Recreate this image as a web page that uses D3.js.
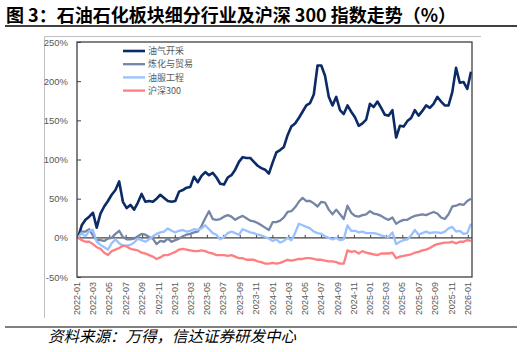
<!DOCTYPE html>
<html>
<head>
<meta charset="utf-8">
<script src="https://cdn.jsdelivr.net/npm/d3@7"></script>
<style>
body { margin: 0; background: #fff; }
svg { display: block; font-family: "Liberation Sans", Arial, sans-serif; }
</style>
</head>
<body>
<svg id="chart" width="522" height="352"></svg>
<script>
// biweekly samples
const dates = [
  '2022-01-04','2022-01-18','2022-02-01','2022-02-15','2022-03-01','2022-03-15','2022-03-29','2022-04-12','2022-04-26','2022-05-10',
  '2022-05-24','2022-06-07','2022-06-21','2022-07-05','2022-07-19','2022-08-02','2022-08-16','2022-08-30','2022-09-13','2022-09-27',
  '2022-10-11','2022-10-25','2022-11-08','2022-11-22','2022-12-06','2022-12-20',
  '2023-01-03','2023-01-17','2023-01-31','2023-02-14','2023-02-28','2023-03-14','2023-03-28','2023-04-11','2023-04-25','2023-05-09',
  '2023-05-23','2023-06-06','2023-06-20','2023-07-04','2023-07-18','2023-08-01','2023-08-15','2023-08-29','2023-09-12','2023-09-26',
  '2023-10-10','2023-10-24','2023-11-07','2023-11-21','2023-12-05','2023-12-19',
  '2024-01-02','2024-01-16','2024-01-30','2024-02-13','2024-02-27','2024-03-12','2024-03-26','2024-04-09','2024-04-23','2024-05-07',
  '2024-05-21','2024-06-04','2024-06-18','2024-07-02','2024-07-16','2024-07-30','2024-08-13','2024-08-27','2024-09-10','2024-09-24',
  '2024-10-08','2024-10-22','2024-11-05','2024-11-19','2024-12-03','2024-12-17','2024-12-31',
  '2025-01-14','2025-01-28','2025-02-11','2025-02-25','2025-03-11','2025-03-25','2025-04-08','2025-04-22','2025-05-06','2025-05-20',
  '2025-06-03','2025-06-17','2025-07-01','2025-07-15','2025-07-29','2025-08-12','2025-08-26','2025-09-09','2025-09-23','2025-10-07',
  '2025-10-21','2025-11-04','2025-11-18','2025-12-02','2025-12-16','2025-12-30',
  '2026-01-13'
];

const oilGas = [
  0, 16, 23, 27, 32, 13, 31, 40, 47, 55,
  61, 72, 46, 38, 42, 36, 45, 56, 46, 47,
  46, 50, 55, 51, 47, 46,
  47, 59, 61, 64, 65, 78, 71, 79, 84, 80,
  83, 77, 69, 68, 77, 80, 87, 97, 103, 102,
  102, 97, 92, 89, 87, 82,
  96, 109, 112, 116, 131, 142, 146, 153, 161, 169,
  172, 183, 220, 220, 207, 180, 169, 180, 163, 158,
  169, 161, 154, 143, 146, 151, 171,
  167, 174, 166, 157, 156, 163, 128, 143, 142, 149,
  153, 163, 156, 162, 169, 166, 171, 180, 174, 169,
  169, 186, 217, 198, 199, 190,
  212
];

const refining = [
  0, 8, 8, 11, 3, -3, -3, -4, -1, 0,
  5, 9, 1, -2, -2, -1, 2, 5, 4, 1,
  -1, -8, -4, -5, -1, -5,
  -3, -1, 2, 4, 5, 7, 8, 15, 25, 34,
  24, 23, 24, 27, 29, 27, 23, 26, 28, 25,
  22, 21, 19, 16, 13, 10,
  20, 20, 22, 26, 33, 34, 39, 46, 51, 47,
  47, 44, 40, 46, 45, 36, 30, 36, 30, 24,
  41, 32, 28, 27, 29, 30, 34,
  31, 30, 28, 25, 23, 26, 18, 21, 23, 23,
  26, 28, 29, 30, 29, 31, 33, 31, 26, 24,
  30, 40, 41, 43, 42, 47,
  50
];

const oilService = [
  0, 6, 2, 9, 10, -5, -9, -12, -15, -7,
  -2, -7, -10, -10, -9, -6, -1, -3, -5, -2,
  2, 5, 7, 8, 12, 9,
  7, 9, 10, 8, 9, 11, 10, 12, 16, 11,
  6, 4, -2, 1, 6, 8, 6, 4, 11, 9,
  7, 6, 4, 3, 1, -1,
  -4, -2, -6, -4, 0, -3, 6, 18, 16, 14,
  12, 8, 6, 5, 2, 0, -2, 0, -3, -2,
  16, 9, 9, 7, 8, 6, 6,
  6, 5, 3, 2, 1, 7, -8, -5, -3, -2,
  3, 10, 4, 6, 8, 6, 7, 7, 6, 8,
  12, 14, 8, 9, 5, 6,
  18
];

const csi300 = [
  0, -3, -5, -5, -8, -12, -14, -19, -22, -17,
  -15, -13, -10, -11, -14, -15, -16, -19, -20, -22,
  -24, -27, -25, -22, -22, -20,
  -18, -15, -14, -15, -16, -17, -17, -16, -17, -19,
  -20, -22, -22, -22, -23, -22, -24, -26, -26, -28,
  -28, -28, -30, -31, -33, -33,
  -32, -33, -32, -30, -28, -29, -28, -27, -27, -26,
  -26, -27, -28, -28, -29, -30, -30, -31, -33, -33,
  -16, -18, -17, -20, -17, -19, -20,
  -21, -22, -20, -20, -20, -19, -26, -24, -23, -22,
  -21, -19, -18, -16, -15, -13, -10, -8, -7, -6,
  -6, -5, -7, -5, -5, -3,
  -4
];

const seriesNames = ['油气开采', '炼化与贸易', '油服工程', '沪深300'];
const seriesColors = ['#0b2a66', '#7585a6', '#99c1ff', '#ff7f80'];
const seriesWidths = [2.6, 2.3, 2.3, 2.3];

const yTicks = [-50, 0, 50, 100, 150, 200, 250];
const xTickLabels = [
  '2022-01','2022-03','2022-05','2022-07','2022-09','2022-11',
  '2023-01','2023-03','2023-05','2023-07','2023-09','2023-11',
  '2024-01','2024-03','2024-05','2024-07','2024-09','2024-11',
  '2025-01','2025-03','2025-05','2025-07','2025-09','2025-11',
  '2026-01'
];

const plot = { left: 77, right: 472, top: 42, bottom: 277 };

const svg = d3.select('#chart');
const parse = d3.timeParse('%Y-%m-%d');
const parseMonth = d3.timeParse('%Y-%m');
const dateObjs = dates.map(parse);

const x = d3.scaleTime()
  .domain(d3.extent(dateObjs))
  .range([78, 471]);
const y = d3.scaleLinear()
  .domain([-50, 250])
  .range([plot.bottom, plot.top]);

// title
svg.append('text')
  .attr('x', 6)
  .attr('y', 22)
  .attr('font-family', '"Noto Sans CJK SC", sans-serif')
  .attr('font-weight', 'bold')
  .attr('font-size', '18px')
  .attr('fill', '#000')
  .text('图 3：石油石化板块细分行业及沪深 300 指数走势（%）');

svg.append('line')
  .attr('x1', 5).attr('x2', 517)
  .attr('y1', 26).attr('y2', 26)
  .attr('stroke', '#000')
  .attr('stroke-width', 1.3);

// chart area border (top + left visible)
svg.append('path')
  .attr('d', 'M44.5,318 V36.5 H481')
  .attr('fill', 'none')
  .attr('stroke', '#c0c0c0')
  .attr('stroke-width', 1);

// y axis labels and inward ticks
const yAxis = svg.append('g')
  .attr('transform', `translate(${plot.left}, 0)`)
  .call(d3.axisLeft(y).tickValues(yTicks).tickFormat(d => d + '%').tickSize(-4).tickPadding(9));
yAxis.select('.domain').remove();
yAxis.selectAll('line').attr('stroke', '#404040');
yAxis.selectAll('text')
  .attr('fill', '#595959')
  .style('font-size', '9.5px')
  .style('font-family', '"Liberation Sans", Arial, sans-serif');

// zero line with month ticks
const tickDates = xTickLabels.map(parseMonth);
svg.append('line')
  .attr('x1', plot.left).attr('x2', plot.right)
  .attr('y1', y(0)).attr('y2', y(0))
  .attr('stroke', '#404040')
  .attr('stroke-width', 1.2);

svg.append('g')
  .attr('transform', `translate(0, ${y(0)})`)
  .call(d3.axisBottom(x).tickValues(tickDates).tickSize(-3).tickSizeOuter(0).tickFormat(''))
  .call(g => g.select('.domain').remove())
  .selectAll('line').attr('stroke', '#404040');

// lines
const lineGen = d3.line()
  .x((d, i) => x(dateObjs[i]))
  .y(d => y(d));

[oilGas, refining, oilService, csi300].forEach((vals, k) => {
  svg.append('path')
    .datum(vals)
    .attr('fill', 'none')
    .attr('stroke', seriesColors[k])
    .attr('stroke-width', seriesWidths[k])
    .attr('stroke-linejoin', 'round')
    .attr('d', lineGen);
});

// plot border
svg.append('rect')
  .attr('x', plot.left).attr('y', plot.top)
  .attr('width', plot.right - plot.left)
  .attr('height', plot.bottom - plot.top)
  .attr('fill', 'none')
  .attr('stroke', '#404040')
  .attr('stroke-width', 1.3);

// x labels, rotated
svg.append('g').selectAll('text')
  .data(xTickLabels)
  .enter()
  .append('text')
  .attr('transform', d => `translate(${x(parseMonth(d))}, 282) rotate(-90)`)
  .attr('text-anchor', 'end')
  .attr('dy', '0.35em')
  .attr('font-size', '9px')
  .attr('fill', '#595959')
  .text(d => d);

// legend
const legend = svg.append('g').attr('transform', 'translate(123, 51)');
seriesNames.forEach((name, i) => {
  legend.append('line')
    .attr('x1', 0).attr('x2', 22)
    .attr('y1', i * 13.2).attr('y2', i * 13.2)
    .attr('stroke', seriesColors[i])
    .attr('stroke-width', seriesWidths[i]);
  legend.append('text')
    .attr('x', 25)
    .attr('y', i * 13.2)
    .attr('dy', '0.35em')
    .attr('font-family', '"Noto Sans CJK SC", sans-serif')
    .attr('font-size', '9px')
    .attr('fill', '#595959')
    .text(name);
});

// footer
svg.append('line')
  .attr('x1', 5).attr('x2', 517)
  .attr('y1', 327).attr('y2', 327)
  .attr('stroke', '#808080')
  .attr('stroke-width', 2);

svg.append('text')
  .attr('x', 48)
  .attr('y', 342)
  .attr('font-family', '"Noto Sans CJK SC", sans-serif')
  .attr('font-style', 'italic')
  .attr('font-size', '15.5px')
  .attr('fill', '#000')
  .text('资料来源：万得，信达证券研发中心');
</script>
</body>
</html>
